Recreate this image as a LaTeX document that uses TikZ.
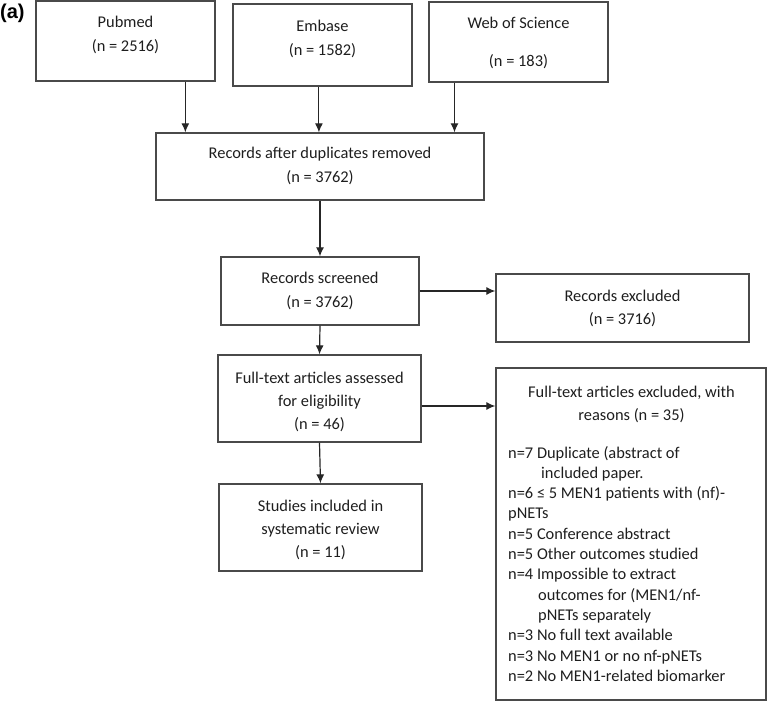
\documentclass[tikz,border=0pt]{standalone}
\usepackage{fontspec}
\setmainfont{Carlito}
\newfontfamily\labelfont{Liberation Sans}
\usetikzlibrary{arrows.meta,calc}
\definecolor{linegray}{HTML}{4A4A4A}
\definecolor{arrowgray}{HTML}{262626}
\definecolor{textgray}{HTML}{1E1E1E}
\tikzset{
  box/.style={draw=linegray, line width=1.3pt, inner sep=0pt, fill=none},
  txt/.style={font=\fontsize{16.4}{20.3}\selectfont, text=textgray, inner sep=0pt, anchor=base},
  ltxt/.style={txt, anchor=base west},
  arr/.style={draw=arrowgray, line width=1.2pt, -{Latex[length=9pt,width=8pt]}}
}
\begin{document}
\begin{tikzpicture}[x=1pt,y=-1pt]
\useasboundingbox (0,0) rectangle (768,708);

% boxes
\node[box, minimum width=179pt, minimum height=80pt] (pubmed) at (125.5,41) {};
\node[box, minimum width=179pt, minimum height=82pt] (embase) at (322.5,45) {};
\node[box, minimum width=179pt, minimum height=80pt] (wos) at (518.5,42) {};
\node[box, minimum width=328pt, minimum height=67pt] (records) at (320,166.5) {};
\node[box, minimum width=198pt, minimum height=68pt] (screened) at (320,291) {};
\node[box, minimum width=253pt, minimum height=68pt] (excluded) at (622.5,308) {};
\node[box, minimum width=203pt, minimum height=87pt] (fulltext) at (319.5,398.5) {};
\node[box, minimum width=203pt, minimum height=87pt] (studies) at (320.5,527.5) {};
\node[box, minimum width=270pt, minimum height=332pt] (ftexcl) at (631,534) {};

% panel label
\node[font=\labelfont\bfseries\fontsize{20}{24}\selectfont, inner sep=0pt, anchor=base west] (panel) at (0,19) {(a)};

% texts
\node[txt] (t1a) at (125.5,28) {Pubmed};
\node[txt] (t1b) at (125.5,52) {(n = 2516)};
\node[txt] (t2a) at (322.5,32) {Embase};
\node[txt] (t2b) at (322.5,56) {(n = 1582)};
\node[txt] (t3a) at (518.5,29) {Web of Science};
\node[txt] (t3b) at (518.5,67) {(n = 183)};
\node[txt] (t4a) at (320,159) {Records after duplicates removed};
\node[txt] (t4b) at (320,183) {(n = 3762)};
\node[txt] (t5a) at (320,284) {Records screened};
\node[txt] (t5b) at (320,308) {(n = 3762)};
\node[txt] (t6a) at (622.5,302) {Records excluded};
\node[txt] (t6b) at (622.5,325) {(n = 3716)};
\node[txt] (t7a) at (319.5,383) {Full-text articles assessed};
\node[txt] (t7b) at (319.5,406) {for eligibility};
\node[txt] (t7c) at (319.5,429) {(n = 46)};
\node[txt] (t8a) at (320.5,511) {Studies included in};
\node[txt] (t8b) at (320.5,534) {systematic review};
\node[txt] (t8c) at (320.5,557) {(n = 11)};
\node[txt] (t9a) at (631.5,397) {Full-text articles excluded, with};
\node[txt] (t9b) at (631.5,420) {reasons (n = 35)};

\node[ltxt] (l1)  at (508,458.0) {n=7 Duplicate (abstract of};
\node[ltxt] (l2)  at (541,478.3) {included paper.};
\node[ltxt] (l3)  at (508,498.6) {n=6 ≤ 5 MEN1 patients with (nf)-};
\node[ltxt] (l4)  at (508,518.9) {pNETs};
\node[ltxt] (l5)  at (508,539.2) {n=5 Conference abstract};
\node[ltxt] (l6)  at (508,559.5) {n=5 Other outcomes studied};
\node[ltxt] (l7)  at (508,579.8) {n=4 Impossible to extract};
\node[ltxt] (l8)  at (538,600.1) {outcomes for (MEN1/nf-};
\node[ltxt] (l9)  at (538,620.4) {pNETs separately};
\node[ltxt] (l10) at (508,640.7) {n=3 No full text available};
\node[ltxt] (l11) at (508,661.0) {n=3 No MEN1 or no nf-pNETs};
\node[ltxt] (l12) at (508,681.3) {n=2 No MEN1-related biomarker};

% connectors
\draw[arr] ($(pubmed.south west)!0.832!(pubmed.south east)$) coordinate (p1) -- (p1 |- records.north);
\draw[arr] ($(embase.south west)!0.48!(embase.south east)$) coordinate (p2) -- (p2 |- records.north);
\draw[arr] ($(wos.south west)!0.145!(wos.south east)$) coordinate (p3) -- (p3 |- records.north);
\draw[arr] (records.south) -- (screened.north);
\draw[arr] (screened.east) -- (screened.east -| excluded.west);
\draw[arr] (screened.south) -- (fulltext.north);
\draw[arr] ($(fulltext.east)+(0,7.5)$) coordinate (p4) -- (p4 -| ftexcl.west);
\draw[arr] (fulltext.south) -- (studies.north);
\end{tikzpicture}
\end{document}
